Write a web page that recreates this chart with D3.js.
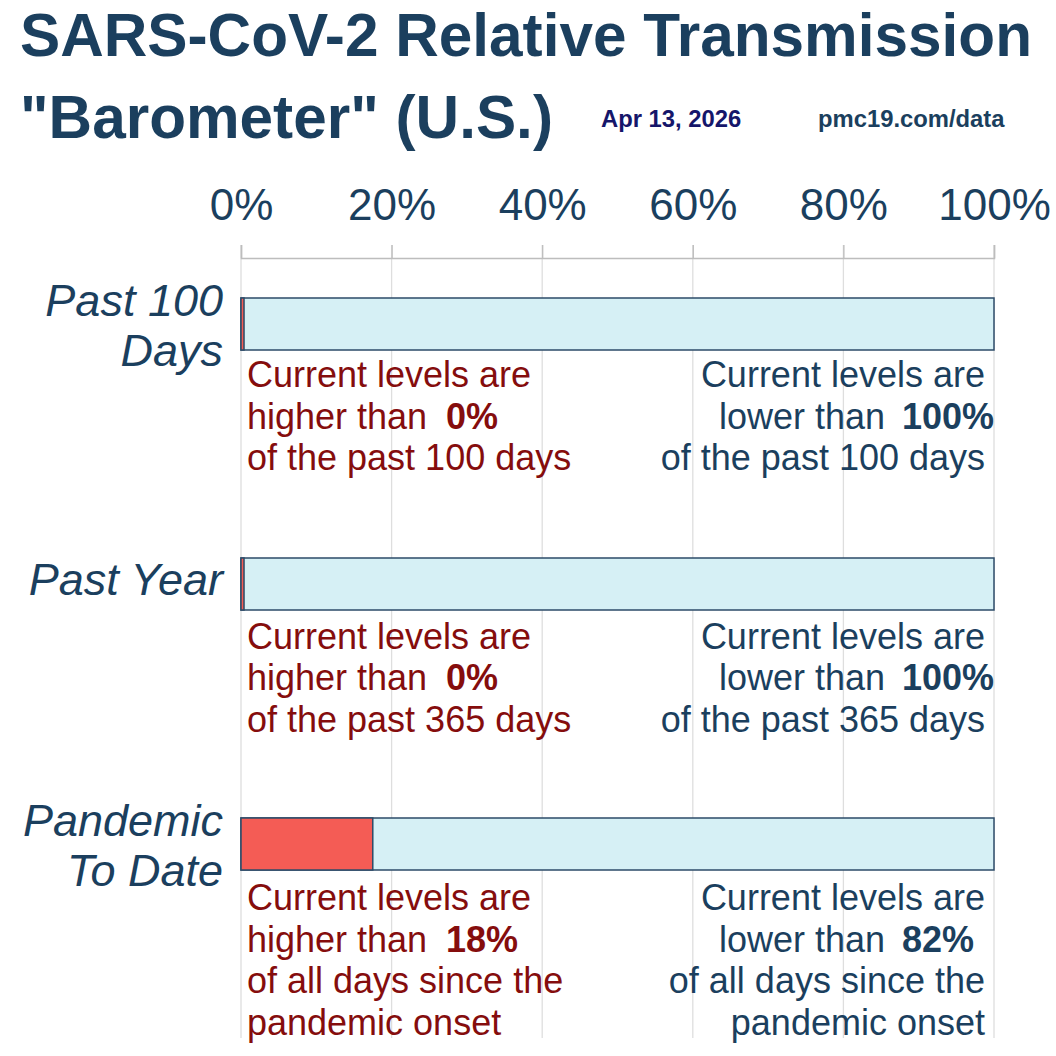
<!DOCTYPE html>
<html>
<head>
<meta charset="utf-8">
<script src="https://cdn.jsdelivr.net/npm/d3@7"></script>
<style>
  body { margin: 0; background: #fff; }
  svg { display: block; font-family: "Liberation Sans", Arial, sans-serif; }
</style>
</head>
<body>
<div class="chart"></div>
<script>
// data
const rows = ["Past 100 Days", "Past Year", "Pandemic To Date"];
const rowLabelLines = [["Past 100", "Days"], ["Past Year"], ["Pandemic", "To Date"]];
const shareHigher = [0.004, 0.004, 0.175];   // red part of each bar
const higherLabels = ["0%", "0%", "18%"];
const lowerLabels = ["100%", "100%", "82%"];
const periodLeft = [["of the past 100 days"], ["of the past 365 days"], ["of all days since the", "pandemic onset"]];
const periodRight = [["of the past 100 days"], ["of the past 365 days"], ["of all days since the", "pandemic onset"]];
const ticks = [0, 0.2, 0.4, 0.6, 0.8, 1];

const W = 1056, H = 1056;
const navy = "#1b3f5e";
const darkRed = "#850d0d";

const svg = d3.select(".chart")
    .append("svg")
    .attr("width", W)
    .attr("height", H);

const x = d3.scaleLinear().domain([0, 1]).range([241, 994]);
const y = d3.scalePoint().domain(rows).range([324, 844]);
const barH = 52;

// title block
svg.append("text")
    .attr("x", 20).attr("y", 56)
    .attr("font-size", 60.3).attr("font-weight", "bold")
    .attr("fill", navy)
    .text("SARS-CoV-2 Relative Transmission");

svg.append("text")
    .attr("x", 20).attr("y", 138)
    .attr("font-size", 60.3).attr("font-weight", "bold")
    .attr("fill", navy)
    .text("\"Barometer\" (U.S.)");

svg.append("text")
    .attr("x", 601).attr("y", 127)
    .attr("font-size", 23.8).attr("font-weight", "bold")
    .attr("fill", "#15166a")
    .text("Apr 13, 2026");

svg.append("text")
    .attr("x", 818).attr("y", 127)
    .attr("font-size", 23.8).attr("font-weight", "bold")
    .attr("fill", navy)
    .text("pmc19.com/data");

// grid + axis
svg.append("g")
    .selectAll("line")
    .data(ticks)
    .enter()
    .append("line")
    .attr("x1", d => x(d)).attr("x2", d => x(d))
    .attr("y1", 245).attr("y2", 1038)
    .attr("stroke", "#dedede")
    .attr("stroke-width", 1.3);

const axis = svg.append("g")
    .attr("transform", "translate(0,258)")
    .call(d3.axisTop(x).tickValues(ticks).tickSize(13).tickFormat(d3.format(".0%")));

axis.select(".domain").attr("stroke", "#bdbdbd").attr("stroke-width", 1.5);
axis.selectAll(".tick line").attr("stroke", "#bdbdbd").attr("stroke-width", 1.3);
axis.selectAll(".tick text")
    .attr("y", -38)
    .attr("dy", 0)
    .attr("font-size", 44)
    .attr("font-family", "Liberation Sans, Arial, sans-serif")
    .attr("fill", navy);

// row labels
const labelG = svg.append("g");
rows.forEach((r, i) => {
    const lines = rowLabelLines[i];
    const first = lines.length === 1 ? y(r) + 11 : y(r) - 8;
    lines.forEach((ln, j) => {
        labelG.append("text")
            .attr("x", 223)
            .attr("y", first + j * 50)
            .attr("text-anchor", "end")
            .attr("font-size", 45)
            .attr("font-style", "italic")
            .attr("fill", navy)
            .text(ln);
    });
});

// bars
const barG = svg.append("g");
barG.selectAll("rect.rest")
    .data(rows)
    .enter()
    .append("rect")
    .attr("class", "rest")
    .attr("x", x(0))
    .attr("y", d => y(d) - barH / 2)
    .attr("width", x(1) - x(0))
    .attr("height", barH)
    .attr("fill", "#d6f0f5")
    .attr("stroke", "#2c4b68")
    .attr("stroke-width", 1.5);

barG.selectAll("rect.high")
    .data(rows)
    .enter()
    .append("rect")
    .attr("class", "high")
    .attr("x", x(0))
    .attr("y", d => y(d) - barH / 2)
    .attr("width", (d, i) => x(shareHigher[i]) - x(0))
    .attr("height", barH)
    .attr("fill", "#f45c55")
    .attr("stroke", "#2c4b68")
    .attr("stroke-width", 1.5);

// annotations under each bar
const noteG = svg.append("g").attr("font-size", 36);
const lineGap = 41.5;
rows.forEach((r, i) => {
    const b0 = y(r) + 63 + i * 1.5;
    const lx = 247, rx = 985;

    // left (higher than)
    noteG.append("text").attr("x", lx).attr("y", b0).attr("fill", darkRed).text("Current levels are");
    noteG.append("text").attr("x", lx).attr("y", b0 + lineGap).attr("fill", darkRed).text("higher than");
    noteG.append("text").attr("x", lx + 199).attr("y", b0 + lineGap)
        .attr("fill", darkRed).attr("font-weight", "bold").text(higherLabels[i]);
    periodLeft[i].forEach((ln, j) => {
        noteG.append("text").attr("x", lx).attr("y", b0 + lineGap * (2 + j)).attr("fill", darkRed).text(ln);
    });

    // right (lower than)
    noteG.append("text").attr("x", rx).attr("y", b0).attr("text-anchor", "end").attr("fill", navy).text("Current levels are");
    noteG.append("text").attr("x", 885).attr("y", b0 + lineGap).attr("text-anchor", "end").attr("fill", navy).text("lower than");
    noteG.append("text").attr("x", 902).attr("y", b0 + lineGap)
        .attr("fill", navy).attr("font-weight", "bold").text(lowerLabels[i]);
    periodRight[i].forEach((ln, j) => {
        noteG.append("text").attr("x", rx).attr("y", b0 + lineGap * (2 + j))
            .attr("text-anchor", "end").attr("fill", navy).text(ln);
    });
});
</script>
</body>
</html>
